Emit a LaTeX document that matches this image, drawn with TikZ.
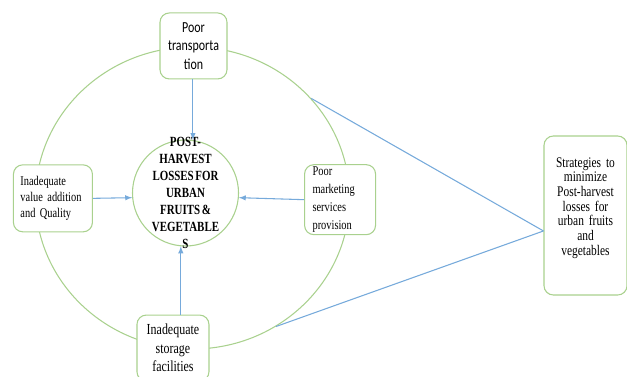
\documentclass[tikz,border=0pt]{standalone}
\usepackage{fontspec}
\setmainfont{Liberation Serif}[FakeStretch=0.78, WordSpace=0.6]
\newfontfamily\calibrifont{Carlito}[FakeStretch=0.78, WordSpace=0.6]
\usetikzlibrary{shapes,arrows,positioning}
\definecolor{leafgreen}{RGB}{169,209,142}
\definecolor{skyblue}{RGB}{118,170,219}

\begin{document}
\begin{tikzpicture}[x=0.75pt,y=-0.75pt]
    \tikzset{
        box/.style = {rectangle, draw=leafgreen, fill=white, line width=0.8pt, rounded corners=7pt, inner sep=0pt},
        hub/.style = {circle, draw=leafgreen, line width=0.8pt, minimum size=79.5pt, inner sep=0pt},
        ring/.style = {ellipse, draw=leafgreen, line width=0.8pt, minimum width=235.5pt, minimum height=226.5pt, inner sep=0pt},
        line/.style = {draw=skyblue, line width=0.8pt, -latex},
        link/.style = {draw=skyblue, line width=0.8pt}
    }
    \useasboundingbox (0,0) rectangle (627,376);

    \node[ring](ring) at (192.5,198){};
    \node[hub](losses) at (185.5,193)[label={[align=center, font=\bfseries\fontsize{10.5}{12.75}\selectfont]center:POST-\\HARVEST\\LOSSES FOR\\URBAN\\FRUITS \&\\VEGETABLE\\S}]{};

    \node[box, minimum width=50.25pt, minimum height=49.5pt, text width=44pt, align=center, font=\calibrifont\fontsize{11.5}{14}\selectfont](transport)[above=45pt of losses, xshift=6pt]{Poor\\transporta\\tion};
    \node[box, minimum width=59.25pt, minimum height=50.25pt, text width=48.75pt, align=left, font=\fontsize{10}{12}\selectfont](valueadd)[left=29.25pt of losses, yshift=-4pt]{Inadequate\\value addition\\and Quality};
    \node[box, minimum width=53.25pt, minimum height=52.5pt, text width=41.25pt, align=left, font=\fontsize{10}{13.5}\selectfont](marketing)[right=48.75pt of losses, yshift=-5pt]{Poor\\marketing\\services\\provision};
    \node[box, minimum width=54pt, minimum height=49.5pt, text width=46pt, align=center, font=\fontsize{11.5}{14}\selectfont](storage)[below=51pt of losses, xshift=-9.4pt]{Inadequate\\storage\\facilities};

    \node[box, minimum width=62.25pt, minimum height=119.25pt, text width=52pt, align=center, font=\fontsize{11}{11}\selectfont](strategies) at (585.5,215.5){Strategies to\\minimize\\Post-harvest\\losses for\\urban fruits\\and\\vegetables\\[3pt]\mbox{}};

    \path [line] (losses.82 |- transport.south) -- (losses.82);
    \path [line] (valueadd.east) -- (losses.185);
    \path [line] (marketing.west) -- (losses.355);
    \path [line] (losses.265 |- storage.north) -- (losses.265);

    \path [link] (ring.40) -- ([yshift=-11.6pt]strategies.west);
    \path [link] (ring.303) -- ([yshift=-11.6pt]strategies.west);

\end{tikzpicture}
\end{document}
